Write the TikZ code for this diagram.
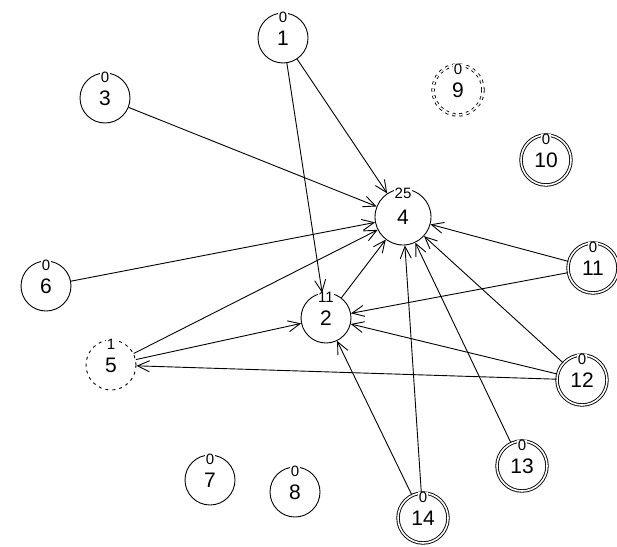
\documentclass[tikz,border=0pt]{standalone}
\usepackage{fontspec}
\setmainfont{Liberation Sans}
\usetikzlibrary{arrows.meta}

\tikzset{
  vtx/.style={circle, draw, line width=0.9pt, minimum size=50pt, inner sep=0pt,
    font=\fontsize{21}{21}\selectfont},
  vtxbig/.style={vtx, minimum size=56pt},
  vtxdbl/.style={vtx, double, double distance=1.6pt},
  vtxdash/.style={vtx, dash pattern=on 3pt off 4pt},
  vtxdbldash/.style={vtxdbl, dash pattern=on 3pt off 4pt},
  deg/.style={fill=white, inner sep=0.5pt, label distance=-11pt,
    font=\fontsize{15}{15}\selectfont},
  arc/.style={line width=0.9pt, -{Straight Barb[length=12pt,width=11pt]}}
}

\begin{document}
\begin{tikzpicture}[x=1pt,y=-1pt]
\useasboundingbox (0,0) rectangle (617,546);

\coordinate (p1) at (283,38);
\coordinate (p2) at (326,318);
\coordinate (p3) at (105,98);
\coordinate (p4) at (403,217);
\coordinate (p5) at (111,365);
\coordinate (p6) at (46,286);
\coordinate (p7) at (210,480);
\coordinate (p8) at (295,492);
\coordinate (p9) at (458,90);
\coordinate (p10) at (546,160);
\coordinate (p11) at (593,268);
\coordinate (p12) at (582,380);
\coordinate (p13) at (522,466);
\coordinate (p14) at (423,518);

\foreach \n/\s/\d in
{1/vtx/0,
    2/vtx/11,
    3/vtx/0,
    4/vtxbig/25,
    5/vtxdash/1,
    6/vtx/0,
    7/vtx/0,
    8/vtx/0,
    9/vtxdbldash/0,
    10/vtxdbl/0,
    11/vtxdbl/0,
    12/vtxdbl/0,
    13/vtxdbl/0,
    14/vtxdbl/0
}
{
    \node[\s, label={[deg]90:\d}] (v\n) at (p\n) {\n};
};

\foreach \a/\b in {1/4, 1/2, 3/4, 6/4, 5/4, 5/2, 2/4, 11/4, 11/2,
    12/4, 12/2, 12/5, 13/4, 14/4, 14/2}
{
    \draw[arc] (v\a) -- (v\b);
};

\end{tikzpicture}
\end{document}
